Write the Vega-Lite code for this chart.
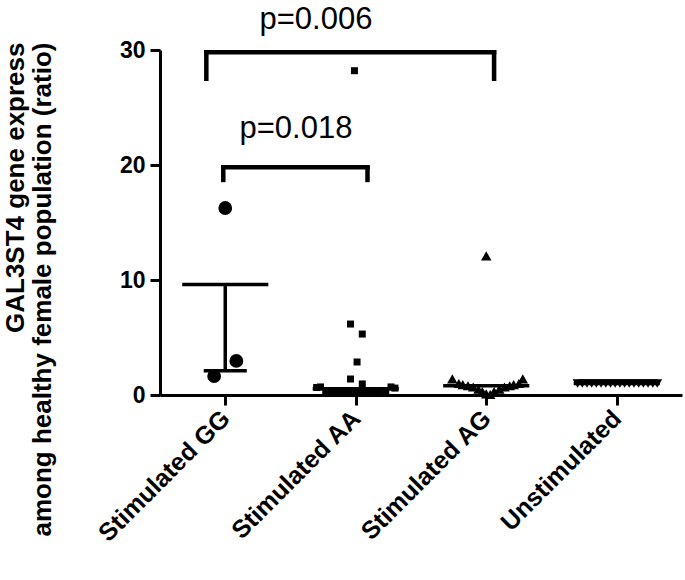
{
  "$schema": "https://vega.github.io/schema/vega-lite/v6.json",
  "width": 522,
  "height": 345,
  "autosize": {"type": "none"},
  "padding": {"left": 160, "top": 50, "right": 3, "bottom": 185},
  "background": "white",
  "config": {"view": {"stroke": null}, "font": "Liberation Sans"},
  "datasets": {
    "points": [
      {"group": "Stimulated GG", "x": 1.0, "y": 16.26},
      {"group": "Stimulated GG", "x": 1.085, "y": 2.96},
      {"group": "Stimulated GG", "x": 0.915, "y": 1.65},
      {"group": "Stimulated AA", "x": 1.99, "y": 28.2},
      {"group": "Stimulated AA", "x": 1.96, "y": 6.17},
      {"group": "Stimulated AA", "x": 2.05, "y": 5.3},
      {"group": "Stimulated AA", "x": 2.01, "y": 2.87},
      {"group": "Stimulated AA", "x": 1.96, "y": 1.39},
      {"group": "Stimulated AA", "x": 2.05, "y": 0.96},
      {"group": "Stimulated AA", "x": 1.7, "y": 0.65},
      {"group": "Stimulated AA", "x": 1.73, "y": 0.7},
      {"group": "Stimulated AA", "x": 1.77, "y": 0.35},
      {"group": "Stimulated AA", "x": 1.82, "y": 0.28},
      {"group": "Stimulated AA", "x": 1.86, "y": 0.22},
      {"group": "Stimulated AA", "x": 1.91, "y": 0.18},
      {"group": "Stimulated AA", "x": 1.95, "y": 0.15},
      {"group": "Stimulated AA", "x": 2.0, "y": 0.15},
      {"group": "Stimulated AA", "x": 2.05, "y": 0.15},
      {"group": "Stimulated AA", "x": 2.09, "y": 0.18},
      {"group": "Stimulated AA", "x": 2.14, "y": 0.22},
      {"group": "Stimulated AA", "x": 2.18, "y": 0.28},
      {"group": "Stimulated AA", "x": 2.23, "y": 0.35},
      {"group": "Stimulated AA", "x": 2.27, "y": 0.7},
      {"group": "Stimulated AA", "x": 2.3, "y": 0.6},
      {"group": "Stimulated AG", "x": 3.0, "y": 12.1},
      {"group": "Stimulated AG", "x": 2.74, "y": 1.4},
      {"group": "Stimulated AG", "x": 3.28, "y": 1.4},
      {"group": "Stimulated AG", "x": 2.79, "y": 1.0},
      {"group": "Stimulated AG", "x": 2.82, "y": 0.9},
      {"group": "Stimulated AG", "x": 2.86, "y": 0.8},
      {"group": "Stimulated AG", "x": 2.9, "y": 0.7},
      {"group": "Stimulated AG", "x": 2.94, "y": 0.5},
      {"group": "Stimulated AG", "x": 2.97, "y": 0.3},
      {"group": "Stimulated AG", "x": 3.0, "y": 0.1},
      {"group": "Stimulated AG", "x": 3.03, "y": 0.05},
      {"group": "Stimulated AG", "x": 3.06, "y": 0.3},
      {"group": "Stimulated AG", "x": 3.1, "y": 0.5},
      {"group": "Stimulated AG", "x": 3.14, "y": 0.7},
      {"group": "Stimulated AG", "x": 3.18, "y": 0.8},
      {"group": "Stimulated AG", "x": 3.21, "y": 0.9},
      {"group": "Stimulated AG", "x": 3.25, "y": 1.0},
      {"group": "Unstimulated", "x": 3.7, "y": 1.0},
      {"group": "Unstimulated", "x": 3.736, "y": 1.0},
      {"group": "Unstimulated", "x": 3.772, "y": 1.0},
      {"group": "Unstimulated", "x": 3.808, "y": 1.0},
      {"group": "Unstimulated", "x": 3.844, "y": 1.0},
      {"group": "Unstimulated", "x": 3.88, "y": 1.0},
      {"group": "Unstimulated", "x": 3.916, "y": 1.0},
      {"group": "Unstimulated", "x": 3.952, "y": 1.0},
      {"group": "Unstimulated", "x": 3.988, "y": 1.0},
      {"group": "Unstimulated", "x": 4.024, "y": 1.0},
      {"group": "Unstimulated", "x": 4.06, "y": 1.0},
      {"group": "Unstimulated", "x": 4.096, "y": 1.0},
      {"group": "Unstimulated", "x": 4.132, "y": 1.0},
      {"group": "Unstimulated", "x": 4.168, "y": 1.0},
      {"group": "Unstimulated", "x": 4.204, "y": 1.0},
      {"group": "Unstimulated", "x": 4.24, "y": 1.0},
      {"group": "Unstimulated", "x": 4.276, "y": 1.0},
      {"group": "Unstimulated", "x": 4.31, "y": 1.0}
    ],
    "summary": [
      {"group": "Stimulated GG", "part": "mean", "x": 0.67, "x2": 1.33, "y": 9.6, "y2": 9.6},
      {"group": "Stimulated GG", "part": "error", "x": 1.0, "x2": 1.0, "y": 9.6, "y2": 2.1},
      {"group": "Stimulated GG", "part": "cap", "x": 0.835, "x2": 1.165, "y": 2.1, "y2": 2.1},
      {"group": "Stimulated AA", "part": "mean", "x": 1.67, "x2": 2.33, "y": 0.55, "y2": 0.55},
      {"group": "Stimulated AG", "part": "mean", "x": 2.67, "x2": 3.33, "y": 0.8, "y2": 0.8},
      {"group": "Unstimulated", "part": "mean", "x": 3.67, "x2": 4.33, "y": 1.0, "y2": 1.0}
    ],
    "brackets": [
      {"pair": "GG vs AG", "x": 0.855, "x2": 0.855, "y": 27.5, "y2": 29.8},
      {"pair": "GG vs AG", "x": 0.855, "x2": 3.06, "y": 29.8, "y2": 29.8},
      {"pair": "GG vs AG", "x": 3.06, "x2": 3.06, "y": 29.8, "y2": 27.5},
      {"pair": "GG vs AA", "x": 0.985, "x2": 0.985, "y": 18.7, "y2": 19.8},
      {"pair": "GG vs AA", "x": 0.985, "x2": 2.09, "y": 19.8, "y2": 19.8},
      {"pair": "GG vs AA", "x": 2.09, "x2": 2.09, "y": 19.8, "y2": 18.7}
    ],
    "pvalues": [
      {"label": "p=0.006", "x": 1.695, "y": 31.85},
      {"label": "p=0.018", "x": 1.542, "y": 22.35}
    ]
  },
  "encoding": {
    "x": {
      "field": "x",
      "type": "quantitative",
      "scale": {"domain": [0.5, 4.5], "nice": false, "zero": false},
      "axis": {
        "values": [1, 2, 3, 4],
        "labelExpr": "['', 'Stimulated GG', 'Stimulated AA', 'Stimulated AG', 'Unstimulated'][datum.value]",
        "labelAngle": -45,
        "labelOverlap": false,
        "labelAlign": "right",
        "labelBaseline": "middle",
        "labelFontSize": 25,
        "labelFontWeight": "bold",
        "labelColor": "black",
        "labelPadding": 9,
        "tickSize": 10,
        "tickWidth": 3,
        "tickColor": "black",
        "domainWidth": 3,
        "domainColor": "black",
        "grid": false,
        "title": null
      }
    },
    "y": {
      "field": "y",
      "type": "quantitative",
      "scale": {"domain": [0, 30], "nice": false},
      "axis": {
        "values": [0, 10, 20, 30],
        "labelFontSize": 23,
        "labelFontWeight": "bold",
        "labelColor": "black",
        "labelPadding": 5,
        "tickSize": 10,
        "tickWidth": 3,
        "tickColor": "black",
        "domainWidth": 3,
        "domainColor": "black",
        "grid": false,
        "title": ["GAL3ST4 gene express", "among healthy female population (ratio)"],
        "titleFontSize": 26,
        "titleFontWeight": "bold",
        "titleColor": "black",
        "titleAngle": -90,
        "titleAlign": "right",
        "titleBaseline": "top",
        "titleLineHeight": 27,
        "titleX": -158,
        "titleY": -8
      }
    }
  },
  "layer": [
    {
      "data": {"name": "summary"},
      "mark": {"type": "rule", "color": "black", "strokeWidth": 3.5, "strokeCap": "butt"},
      "encoding": {"x2": {"field": "x2"}, "y2": {"field": "y2"}}
    },
    {
      "data": {"name": "brackets"},
      "mark": {"type": "rule", "color": "black", "strokeWidth": 4.5, "strokeCap": "square"},
      "encoding": {"x2": {"field": "x2"}, "y2": {"field": "y2"}}
    },
    {
      "data": {"name": "points"},
      "transform": [{"filter": "datum.group === 'Stimulated GG'"}],
      "mark": {"type": "point", "shape": "circle", "size": 190, "filled": true, "opacity": 1, "color": "black", "strokeWidth": 0}
    },
    {
      "data": {"name": "points"},
      "transform": [{"filter": "datum.group === 'Stimulated AA'"}],
      "mark": {"type": "point", "shape": "square", "size": 49, "filled": true, "opacity": 1, "color": "black", "strokeWidth": 0}
    },
    {
      "data": {"name": "points"},
      "transform": [{"filter": "datum.group === 'Stimulated AG'"}],
      "mark": {"type": "point", "shape": "triangle-up", "size": 110, "filled": true, "opacity": 1, "color": "black", "strokeWidth": 0}
    },
    {
      "data": {"name": "points"},
      "transform": [{"filter": "datum.group === 'Unstimulated'"}],
      "mark": {"type": "point", "shape": "triangle-down", "size": 100, "filled": true, "opacity": 1, "color": "black", "strokeWidth": 0}
    },
    {
      "data": {"name": "pvalues"},
      "mark": {"type": "text", "fontSize": 31, "font": "Liberation Sans", "color": "black", "align": "center", "baseline": "alphabetic"},
      "encoding": {"text": {"field": "label"}}
    }
  ]
}
